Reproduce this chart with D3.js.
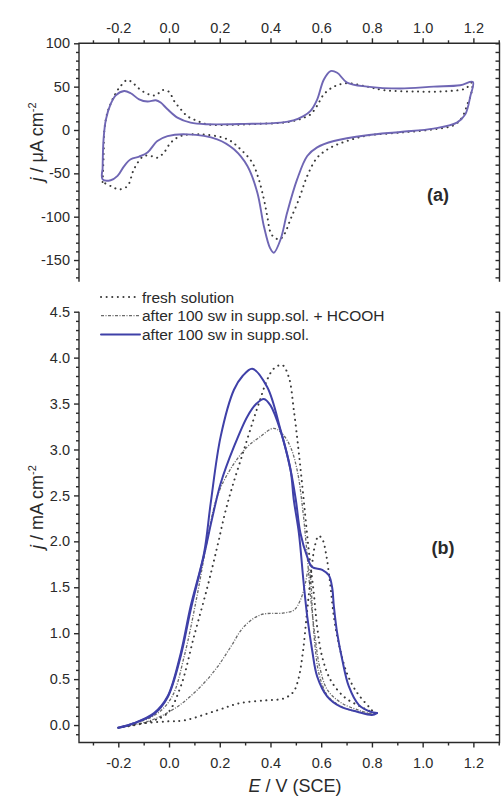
<!DOCTYPE html>
<html>
<head>
<script src="https://d3js.org/d3.v7.min.js"></script>
<style>
  body { margin: 0; background: #fff; }
  svg { font-family: "Liberation Sans", Arial, sans-serif; }
  .axis path, .axis line { stroke: #2a2a2a; stroke-width: 1.4px; }
  .axis text { fill: #2a2a2a; font-size: 14.5px; }
  .lbl { fill: #2a2a2a; font-size: 18px; }
  .legend text { fill: #2a2a2a; font-size: 15.5px; }
</style>
</head>
<body>
<script>
// ---- data: [E / V, j] ----
// panel (a): CV, j in uA cm-2
var cvFresh = [[-0.262,-60],[-0.258,-30],[-0.255,0],[-0.245,18],[-0.236,26],[-0.215,40],[-0.19,51],[-0.164,57.7],
  [-0.138,53],[-0.111,46],[-0.079,41],[-0.052,40],[-0.026,46],[0,44],[0.02,33.5],[0.046,24],[0.072,16],[0.112,10.4],
  [0.151,6.6],[0.25,6],[0.35,7],[0.45,8.5],[0.5,11],[0.53,14],[0.558,18],[0.584,28],[0.61,41],[0.65,50],[0.702,54],
  [0.781,50],[0.846,46],[0.978,44.3],[1.109,45],[1.17,48],[1.195,55],
  [1.19,40],[1.181,33.5],[1.155,14.3],[1.122,5.4],[1.043,0.8],[0.912,-3],[0.781,-6.5],[0.702,-12.7],[0.637,-20.3],
  [0.584,-32],[0.545,-53],[0.512,-80],[0.479,-103],[0.455,-120],[0.437,-126],[0.415,-124],[0.4,-118],[0.387,-99],
  [0.374,-80],[0.354,-57],[0.328,-37.6],[0.282,-22.3],[0.23,-10.7],[0.125,-5],[0.046,-7],[0.007,-14.5],[-0.02,-26],
  [-0.046,-32],[-0.072,-30],[-0.1,-30],[-0.138,-45],[-0.164,-64.7],[-0.197,-68.5],[-0.23,-64.7],[-0.262,-60]];

var cvAfter = [[-0.262,-45],[-0.258,-10],[-0.249,12],[-0.23,30],[-0.21,40],[-0.177,45],[-0.151,42.4],[-0.118,35.4],
  [-0.085,32.8],[-0.052,34.3],[-0.033,31.6],[-0.006,23.9],[0.033,14.3],[0.085,8.5],[0.151,6.6],[0.3,7],[0.44,8.5],
  [0.49,11],[0.53,16],[0.558,22],[0.584,35],[0.61,58],[0.637,68],[0.663,66],[0.702,54.7],[0.781,50],[0.912,47.8],
  [1.043,50],[1.148,51.6],[1.198,55.4],
  [1.188,39],[1.168,18],[1.135,8.5],[1.043,1.6],[0.912,-2.3],[0.781,-6],[0.65,-12.7],[0.584,-20],[0.545,-30],
  [0.505,-57],[0.466,-95],[0.44,-126],[0.413,-141.6],[0.398,-136],[0.374,-111],[0.348,-72],[0.309,-41.6],
  [0.256,-22.3],[0.19,-10.7],[0.072,-5],[-0.006,-7],[-0.046,-12.7],[-0.085,-26],[-0.118,-30.7],[-0.151,-33.8],
  [-0.177,-41.6],[-0.203,-53],[-0.23,-58],[-0.262,-57],[-0.262,-45]];

// panel (b): sweeps, j in mA cm-2
var freshFwd = [[-0.2,-0.03],[-0.1,0.02],[-0.006,0.04],[0.059,0.05],[0.19,0.16],[0.282,0.24],[0.387,0.27],
  [0.453,0.29],[0.49,0.36],[0.51,0.5],[0.528,0.8],[0.543,1.2],[0.56,1.65],[0.575,1.95],[0.59,2.06],[0.605,2.02],
  [0.62,1.85],[0.635,1.55],[0.65,1.18],[0.669,0.89],[0.702,0.56],[0.742,0.35],[0.794,0.18],[0.81,0.13]];
var freshBwd = [[0.81,0.13],[0.755,0.2],[0.689,0.31],[0.637,0.49],[0.604,0.74],[0.584,1.07],[0.571,1.43],
  [0.551,1.9],[0.531,2.45],[0.512,2.96],[0.492,3.43],[0.472,3.79],[0.446,3.92],[0.413,3.88],[0.387,3.76],
  [0.36,3.55],[0.33,3.3],[0.29,2.95],[0.25,2.6],[0.22,2.3],[0.19,1.94],[0.151,1.5],[0.098,0.96],[0.046,0.42],
  [-0.006,0.13],[-0.072,0.04],[-0.2,-0.03]];

var hcoohFwd = [[-0.2,-0.03],[-0.072,0.05],[0.033,0.2],[0.125,0.42],[0.19,0.63],[0.243,0.85],[0.295,1.07],
  [0.361,1.2],[0.453,1.22],[0.492,1.25],[0.518,1.36],[0.538,1.55],[0.55,1.7],[0.558,1.6],[0.566,1.2],
  [0.576,0.85],[0.592,0.55],[0.625,0.32],[0.68,0.2],[0.75,0.14],[0.8,0.12]];
var hcoohBwd = [[0.8,0.12],[0.75,0.16],[0.68,0.24],[0.625,0.38],[0.595,0.62],[0.575,0.98],[0.558,1.4],
  [0.543,1.9],[0.527,2.35],[0.507,2.75],[0.48,3.02],[0.45,3.16],[0.413,3.23],[0.36,3.14],[0.309,3.03],
  [0.243,2.79],[0.19,2.49],[0.15,2.0],[0.11,1.4],[0.06,0.75],[0.01,0.3],[-0.06,0.1],[-0.2,-0.03]];

var suppFwd = [[-0.2,-0.03],[-0.138,0.02],[-0.059,0.12],[-0.006,0.3],[0.046,0.75],[0.085,1.25],[0.138,1.85],
  [0.17,2.25],[0.2035,2.63],[0.256,3.03],[0.309,3.36],[0.345,3.5],[0.374,3.55],[0.4,3.48],[0.44,3.2],
  [0.479,2.78],[0.5,2.45],[0.518,2.09],[0.545,1.83],[0.564,1.72],[0.604,1.69],[0.63,1.63],[0.643,1.5],
  [0.65,1.29],[0.663,1.0],[0.683,0.71],[0.709,0.42],[0.748,0.22],[0.794,0.145],[0.82,0.13]];
var suppBwd = [[0.82,0.13],[0.8,0.11],[0.742,0.145],[0.676,0.2],[0.624,0.31],[0.584,0.53],[0.564,0.82],
  [0.545,1.18],[0.531,1.54],[0.512,2.09],[0.492,2.45],[0.479,2.78],[0.44,3.21],[0.387,3.68],[0.328,3.88],
  [0.29,3.8],[0.256,3.65],[0.2035,3.14],[0.164,2.41],[0.138,1.87],[0.085,1.29],[0.046,0.78],[-0.006,0.31],
  [-0.059,0.13],[-0.138,0.02],[-0.2,-0.03]];

var xTicks = [-0.2, 0.0, 0.2, 0.4, 0.6, 0.8, 1.0, 1.2];
var yTicksA = [-150, -100, -50, 0, 50, 100];
var yTicksB = [0.0, 0.5, 1.0, 1.5, 2.0, 2.5, 3.0, 3.5, 4.0, 4.5];
var legendLabels = ["fresh solution", "after 100 sw in supp.sol. + HCOOH", "after 100 sw in supp.sol."];

// ---- layout ----
var W = 502, H = 796;
var left = 79, right = 499.5;
var aTop = 43.3, aBottom = 281.7;
var bTop = 311.7, bBottom = 742.5;

var svg = d3.select("body").append("svg").attr("width", W).attr("height", H);

var x = d3.scaleLinear().domain([-0.355, 1.303]).range([left, right]);
var yA = d3.scaleLinear().domain([-175, 100]).range([aBottom, aTop]);
var yB = d3.scaleLinear().domain([-0.19, 4.5]).range([bBottom, bTop]);

// plain hyphen for negatives, as in the original figure
var loc = d3.formatLocale({ decimal: ".", thousands: ",", grouping: [3], currency: ["", ""], minus: "-" });
var fmt = loc.format(".1f");
var fmtInt = loc.format("d");
var xMinor = d3.range(-0.3, 1.31, 0.1).filter(function(v) { return Math.abs(Math.round(v * 10) % 2) === 1; });
var yMinorA = d3.range(-170, 101, 10).filter(function(v) { return v % 50 !== 0; });
var yMinorB = d3.range(-1, 45).map(function(v) { return v / 10; }).filter(function(v) { return Math.round(v * 10) % 5 !== 0; });

function addAxis(g, axis) {
  g.call(axis);
  g.select(".domain").remove();
  return g;
}

// panel (a) axes: top, left, right
addAxis(svg.append("g").attr("class", "axis").attr("transform", "translate(0," + aTop + ")"),
  d3.axisTop(x).tickValues(xTicks).tickFormat(fmt).tickSize(5).tickPadding(5));
addAxis(svg.append("g").attr("class", "axis").attr("transform", "translate(0," + aTop + ")"),
  d3.axisTop(x).tickValues(xMinor).tickFormat("").tickSize(3));
addAxis(svg.append("g").attr("class", "axis").attr("transform", "translate(" + left + ",0)"),
  d3.axisLeft(yA).tickValues(yTicksA).tickFormat(fmtInt).tickSize(5).tickPadding(4));
addAxis(svg.append("g").attr("class", "axis").attr("transform", "translate(" + left + ",0)"),
  d3.axisLeft(yA).tickValues(yMinorA).tickFormat("").tickSize(3));
addAxis(svg.append("g").attr("class", "axis").attr("transform", "translate(" + right + ",0)"),
  d3.axisLeft(yA).tickValues(yTicksA.concat(yMinorA)).tickFormat("").tickSize(4));
svg.append("g").attr("class", "axis").append("path")
  .attr("d", "M" + left + "," + aBottom + "V" + aTop + "H" + right + "V" + aBottom).attr("fill", "none");

// panel (b) axes: bottom, left, right
addAxis(svg.append("g").attr("class", "axis").attr("transform", "translate(0," + bBottom + ")"),
  d3.axisBottom(x).tickValues(xTicks).tickFormat(fmt).tickSize(5).tickPadding(10));
addAxis(svg.append("g").attr("class", "axis").attr("transform", "translate(0," + bBottom + ")"),
  d3.axisBottom(x).tickValues(xMinor).tickFormat("").tickSize(3));
addAxis(svg.append("g").attr("class", "axis").attr("transform", "translate(" + left + ",0)"),
  d3.axisLeft(yB).tickValues(yTicksB).tickFormat(fmt).tickSize(5).tickPadding(4));
addAxis(svg.append("g").attr("class", "axis").attr("transform", "translate(" + left + ",0)"),
  d3.axisLeft(yB).tickValues(yMinorB).tickFormat("").tickSize(3));
addAxis(svg.append("g").attr("class", "axis").attr("transform", "translate(" + right + ",0)"),
  d3.axisLeft(yB).tickValues(yTicksB.concat(yMinorB)).tickFormat("").tickSize(4));
svg.append("g").attr("class", "axis").append("path")
  .attr("d", "M" + left + "," + bTop + "V" + bBottom + "H" + right + "V" + bTop).attr("fill", "none");

// ---- curves ----
function lineFor(y) {
  return d3.line().x(function(d) { return x(d[0]); }).y(function(d) { return y(d[1]); })
    .curve(d3.curveCatmullRom.alpha(0.5));
}
var lineA = lineFor(yA), lineB = lineFor(yB);

var dotted = { stroke: "#3a3a3a", width: 2, dash: "0.1,5.5", cap: "round" };
var dashdot = { stroke: "#6a6a6a", width: 1.3, dash: "3,1.5,1,1.5", cap: "butt" };
var solidA = { stroke: "#6f66b4", width: 1.9, dash: null, cap: "round" };
var solidB = { stroke: "#3f40a8", width: 2, dash: null, cap: "round" };

function draw(data, line, st) {
  svg.append("path").attr("d", line(data)).attr("fill", "none")
    .attr("stroke", st.stroke).attr("stroke-width", st.width)
    .attr("stroke-dasharray", st.dash).attr("stroke-linecap", st.cap);
}

draw(cvFresh, lineA, dotted);
draw(cvAfter, lineA, solidA);

draw(hcoohFwd, lineB, dashdot);
draw(hcoohBwd, lineB, dashdot);
draw(freshFwd, lineB, dotted);
draw(freshBwd, lineB, dotted);
draw(suppFwd, lineB, solidB);
draw(suppBwd, lineB, solidB);

// ---- labels ----
svg.append("text").attr("class", "lbl").attr("transform", "translate(43,142) rotate(-90)")
  .attr("text-anchor", "middle")
  .html('<tspan font-style="italic">j</tspan> / μA cm<tspan dy="-7" font-size="11">-2</tspan>');
svg.append("text").attr("class", "lbl").attr("transform", "translate(43,507) rotate(-90)")
  .attr("text-anchor", "middle")
  .html('<tspan font-style="italic">j</tspan> / mA cm<tspan dy="-7" font-size="11">-2</tspan>');
svg.append("text").attr("class", "lbl").attr("x", 295).attr("y", 792).attr("text-anchor", "middle")
  .attr("font-size", "17px")
  .html('<tspan font-style="italic">E</tspan> / V (SCE)');
svg.append("text").attr("class", "lbl").attr("x", 438).attr("y", 201).attr("text-anchor", "middle")
  .attr("font-weight", "bold").text("(a)");
svg.append("text").attr("class", "lbl").attr("x", 443).attr("y", 554).attr("text-anchor", "middle")
  .attr("font-weight", "bold").text("(b)");

// ---- legend ----
var legendStyles = [dotted, dashdot, solidB];
var lg = svg.append("g").attr("class", "legend");
legendLabels.forEach(function(t, i) {
  var yy = 297 + i * 18.7;
  var st = legendStyles[i];
  lg.append("line").attr("x1", 101).attr("x2", 140).attr("y1", yy).attr("y2", yy)
    .attr("stroke", st.stroke).attr("stroke-width", st.width)
    .attr("stroke-dasharray", st.dash).attr("stroke-linecap", st.cap);
  lg.append("text").attr("x", 142).attr("y", yy + 5.5).text(t);
});
</script>
</body>
</html>
